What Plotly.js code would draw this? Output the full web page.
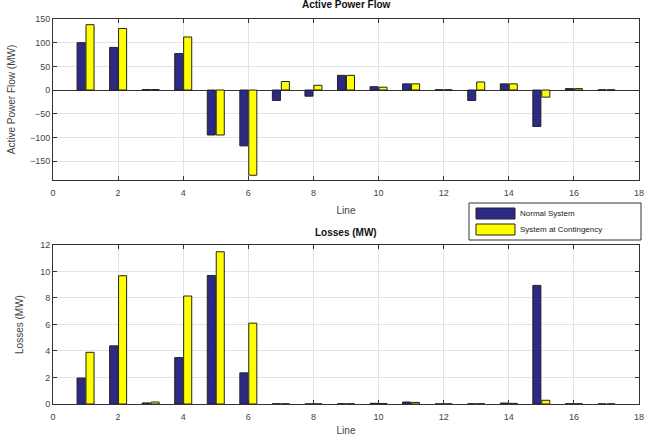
<!DOCTYPE html>
<html><head><meta charset="utf-8">
<script src="https://cdn.plot.ly/plotly-3.0.1.min.js"></script>
<style>html,body{margin:0;padding:0;background:#fff;}#chart{width:649px;height:436px;}</style>
</head><body><div id="chart"></div>
<script>
const lines = [1,2,3,4,5,6,7,8,9,10,11,12,13,14,15,16,17];
const flowNormal = [100, 90, 1, 77, -95, -118, -22, -13, 31, 7, 13, 0.5, -22, 13, -77, 3, 0.5];
const flowContingency = [138, 130, 1, 112, -95, -180, 18, 10, 31, 6, 13, 0.5, 17, 13, -15, 3, 0.5];
const lossNormal = [1.96, 4.39, 0.08, 3.5, 9.7, 2.35, 0.02, 0.01, 0.02, 0.05, 0.15, 0.01, 0.02, 0.07, 8.95, 0.02, 0.01];
const lossContingency = [3.9, 9.68, 0.15, 8.15, 11.49, 6.1, 0.02, 0.01, 0.02, 0.04, 0.12, 0.01, 0.02, 0.05, 0.28, 0.02, 0.01];
const names = ['Normal System', 'System at Contingency'];
const xTicks = [0,2,4,6,8,10,12,14,16,18];
const flowTicks = [-150,-100,-50,0,50,100,150];
const lossTicks = [0,2,4,6,8,10,12];

const navy = '#2c2a85', yellow = '#ffff00';
const edge = {color:'#222', width:1};
const traces = [
  {type:'bar', x:lines, y:flowNormal, name:names[0], marker:{color:navy, line:edge}, xaxis:'x', yaxis:'y', showlegend:false},
  {type:'bar', x:lines, y:flowContingency, name:names[1], marker:{color:yellow, line:edge}, xaxis:'x', yaxis:'y', showlegend:false},
  {type:'bar', x:lines, y:lossNormal, name:names[0], marker:{color:navy, line:edge}, xaxis:'x2', yaxis:'y2', showlegend:false},
  {type:'bar', x:lines, y:lossContingency, name:names[1], marker:{color:yellow, line:edge}, xaxis:'x2', yaxis:'y2', showlegend:false}
];
const tickFont = {family:'Liberation Sans, Arial, sans-serif', size:9, color:'#444'};
const titleFont = {family:'Liberation Sans, Arial, sans-serif', size:10, color:'#444'};
const axCommon = {
  showline:true, mirror:'ticks', linecolor:'#333', linewidth:1,
  ticks:'inside', ticklen:4, tickcolor:'#333',
  showgrid:true, gridcolor:'#e3e3e3', tickfont:tickFont, zeroline:false
};
const layout = {
  width:649, height:436,
  margin:{l:53, r:10, t:0, b:0},
  paper_bgcolor:'#fff', plot_bgcolor:'#fff',
  barmode:'group', bargap:0.45, bargroupgap:0.1,
  xaxis: Object.assign({}, axCommon, {domain:[0,1], range:[0,18], tickvals:xTicks, anchor:'y', ticklabelstandoff:4,
    title:{text:'Line', font:titleFont, standoff:10}}),
  yaxis: Object.assign({}, axCommon, {domain:[0.5872,0.9564], range:[-190,150], tickvals:flowTicks, anchor:'x',
    zeroline:true, zerolinecolor:'#333', zerolinewidth:1,
    title:{text:'Active Power Flow (MW)', font:titleFont, standoff:12}}),
  xaxis2: Object.assign({}, axCommon, {domain:[0,1], range:[0,18], tickvals:xTicks, anchor:'y2', ticklabelstandoff:4,
    title:{text:'Line', font:titleFont, standoff:10}}),
  yaxis2: Object.assign({}, axCommon, {domain:[0.0734,0.4381], range:[0,12], tickvals:lossTicks, anchor:'x2',
    title:{text:'Losses (MW)', font:titleFont, standoff:14}}),
  annotations:[
    {text:'<b>Active Power Flow</b>', xref:'paper', yref:'paper', x:0.5, y:1-5/436, xanchor:'center', yanchor:'middle', showarrow:false, font:{family:'Liberation Sans, Arial, sans-serif', size:10, color:'#111'}},
    {text:'<b>Losses (MW)</b>', xref:'paper', yref:'paper', x:0.5, y:1-232/436, xanchor:'center', yanchor:'middle', showarrow:false, font:{family:'Liberation Sans, Arial, sans-serif', size:10, color:'#111'}},
    {text:names[0], xref:'paper', yref:'paper', x:(518-53)/586, y:1-213/436, xanchor:'left', yanchor:'middle', showarrow:false, font:{family:'Liberation Sans, Arial, sans-serif', size:8, color:'#222'}},
    {text:names[1], xref:'paper', yref:'paper', x:(518-53)/586, y:1-229.5/436, xanchor:'left', yanchor:'middle', showarrow:false, font:{family:'Liberation Sans, Arial, sans-serif', size:8, color:'#222'}}
  ],
  shapes:[
    {type:'rect', xref:'paper', yref:'paper', x0:(469-53)/586, x1:(641-53)/586, y0:1-240/436, y1:1-203/436, line:{color:'#333', width:1}, fillcolor:'#fff'},
    {type:'rect', xref:'paper', yref:'paper', x0:(476-53)/586, x1:(515-53)/586, y0:1-219/436, y1:1-208/436, line:{color:'#222', width:1}, fillcolor:navy},
    {type:'rect', xref:'paper', yref:'paper', x0:(476-53)/586, x1:(515-53)/586, y0:1-235/436, y1:1-224/436, line:{color:'#222', width:1}, fillcolor:yellow}
  ]
};
Plotly.newPlot('chart', traces, layout, {displayModeBar:false, staticPlot:true});
</script></body></html>
